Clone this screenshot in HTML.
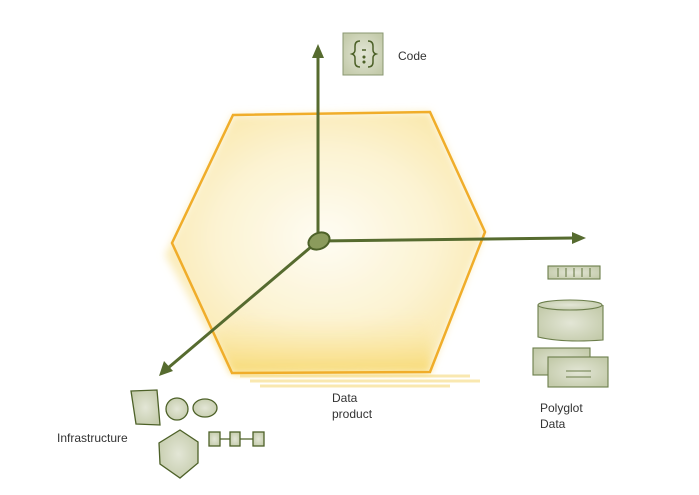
<!DOCTYPE html>
<html><head><meta charset="utf-8"><style>
html,body{margin:0;padding:0;background:#fff}
svg{display:block}
text{font-family:"Liberation Sans",sans-serif;font-size:12px;fill:#333}
</style></head><body>
<svg width="699" height="495" viewBox="0 0 699 495">
<defs>
<radialGradient id="wash" cx="50%" cy="48%" r="62%">
<stop offset="0" stop-color="#fefcf3"/><stop offset="0.55" stop-color="#fcf3d2"/><stop offset="1" stop-color="#f9e6a6"/>
</radialGradient>
<linearGradient id="bottom" x1="0" y1="0" x2="0" y2="1">
<stop offset="0" stop-color="#fbeab0" stop-opacity="0"/><stop offset="1" stop-color="#f7d767"/>
</linearGradient>
<radialGradient id="gw" cx="50%" cy="50%" r="60%"><stop offset="0" stop-color="#e3e6d6"/><stop offset="1" stop-color="#c4cbab"/></radialGradient>
<filter id="blur"><feGaussianBlur stdDeviation="4"/></filter>
</defs>
<g>
<polygon points="233,115 430,112 485,232 430,372 232,373 165,255" fill="url(#wash)" stroke="none" filter="url(#blur)"/>
<polygon points="245,315 430,312 430,372 232,373 215,335" fill="url(#bottom)" opacity="0.8" filter="url(#blur)"/>
<path d="M240 376 H470 M250 381 H480 M260 386 H450" stroke="#f6da7c" stroke-width="3" opacity="0.6"/>
<polygon points="233,115 430,112 485,232 430,372 232,373 172,243" fill="none" stroke="#f0ad2a" stroke-width="2.5"/>
</g>
<g stroke="#566b2f" stroke-width="3" fill="#566b2f">
<line x1="318" y1="241" x2="318" y2="56"/>
<polygon points="318,44 312,58 324,58" stroke="none"/>
<line x1="318" y1="241" x2="574" y2="238"/>
<polygon points="586,238 572,232 572,244" stroke="none"/>
<line x1="318" y1="241" x2="168" y2="368"/>
<polygon points="159,376 164,361 173,371" stroke="none"/>
<ellipse cx="319" cy="241" rx="11" ry="8" transform="rotate(-25 319 241)" fill="#8b9b5c" stroke="#4d6128" stroke-width="2"/>
</g>
<g stroke="#4d6128" fill="none" stroke-width="1.5">
<rect x="343" y="33" width="40" height="42" fill="url(#gw)" stroke="#8a9770" stroke-width="1"/>
<path d="M360 41 q-5 0 -5 5 v4 q0 3 -3 4 q3 1 3 4 v4 q0 5 5 5"/>
<path d="M368 41 q5 0 5 5 v4 q0 3 3 4 q-3 1 -3 4 v4 q0 5 -5 5"/>
<line x1="362" y1="50" x2="366" y2="50"/><circle cx="364" cy="57" r="0.8"/><circle cx="364" cy="62" r="0.8"/>
</g>
<text x="398" y="60">Code</text>
<text x="332" y="402">Data</text>
<text x="332" y="418">product</text>
<g stroke="#6b7d4a" stroke-width="1.1" fill="url(#gw)">
<rect x="548" y="266" width="52" height="13"/>
<path d="M558 268v9M566 268v9M574 268v9M582 268v9M590 268v9" fill="none"/>
<path d="M538 305 v32 q25 6 65 3 v-35" />
<ellipse cx="570" cy="305" rx="32" ry="5"/>
<rect x="533" y="348" width="57" height="27"/>
<rect x="548" y="357" width="60" height="30"/>
<path d="M566 371h25M566 377h25" fill="none"/>
</g>
<text x="540" y="412">Polyglot</text>
<text x="540" y="428">Data</text>
<g stroke="#4d6128" stroke-width="1.3" fill="url(#gw)">
<polygon points="131,391 157,390 160,425 136,424"/>
<circle cx="177" cy="409" r="11"/>
<ellipse cx="205" cy="408" rx="12" ry="9"/>
<polygon points="180,430 198,442 198,463 180,478 160,464 159,443"/>
<rect x="209" y="432" width="11" height="14"/><rect x="230" y="432" width="10" height="14"/><rect x="253" y="432" width="11" height="14"/>
<path d="M220 439h10M240 439h13" fill="none"/>
</g>
<text x="57" y="442">Infrastructure</text>
</svg>
</body></html>
